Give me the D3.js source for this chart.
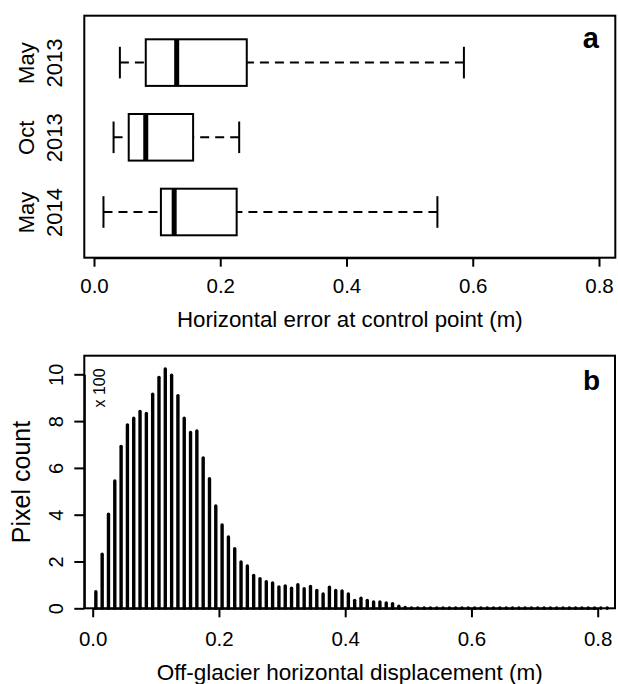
<!DOCTYPE html>
<html>
<head>
<meta charset="utf-8">
<script src="https://cdn.jsdelivr.net/npm/d3@7"></script>
<style>
  html, body { margin: 0; padding: 0; background: #fff; }
  svg { display: block; font-family: "Liberation Sans", Arial, Helvetica, sans-serif; }
</style>
</head>
<body>
<svg id="chart" width="618" height="684"></svg>
<script>
// ---------- Panel a: box plot data ----------
const boxCategories = ["May 2013", "Oct 2013", "May 2014"];
const boxLabelLine1 = ["May", "Oct", "May"];
const boxLabelLine2 = ["2013", "2013", "2014"];
const whiskerLow  = [0.041, 0.031, 0.015];
const quartile1   = [0.082, 0.055, 0.106];
const medianVal   = [0.131, 0.082, 0.127];
const quartile3   = [0.242, 0.157, 0.226];
const whiskerHigh = [0.586, 0.230, 0.544];
const topTicks = [0.0, 0.2, 0.4, 0.6, 0.8];
const topTickLabels = ["0.0", "0.2", "0.4", "0.6", "0.8"];
const topTitle = "Horizontal error at control point (m)";

// ---------- Panel b: histogram data (pixel count x 100) ----------
const binMids = [
  0.005, 0.015, 0.025, 0.035, 0.045, 0.055, 0.065, 0.075, 0.085, 0.095,
  0.105, 0.115, 0.125, 0.135, 0.145, 0.155, 0.165, 0.175, 0.185, 0.195,
  0.205, 0.215, 0.225, 0.235, 0.245, 0.255, 0.265, 0.275, 0.285, 0.295,
  0.305, 0.315, 0.325, 0.335, 0.345, 0.355, 0.365, 0.375, 0.385, 0.395,
  0.405, 0.415, 0.425, 0.435, 0.445, 0.455, 0.465, 0.475, 0.485, 0.495,
  0.505, 0.515, 0.525, 0.535, 0.545, 0.555, 0.565, 0.575, 0.585, 0.595,
  0.605, 0.615, 0.625, 0.635, 0.645, 0.655, 0.665, 0.675, 0.685, 0.695,
  0.705, 0.715, 0.725, 0.735, 0.745, 0.755, 0.765, 0.775, 0.785, 0.795,
  0.805, 0.815
];
const pixelCounts = [
  0.71, 2.31, 4.02, 5.44, 6.92, 7.84, 8.12, 8.41, 8.33, 9.15,
  9.87, 10.23, 9.96, 9.09, 8.12, 7.51, 7.58, 6.43, 5.54, 4.37,
  3.56, 3.05, 2.55, 1.98, 1.81, 1.40, 1.27, 1.14, 1.08, 0.91,
  0.96, 0.86, 1.01, 0.84, 0.93, 0.76, 0.61, 0.90, 0.76, 0.74,
  0.61, 0.34, 0.43, 0.34, 0.27, 0.27, 0.23, 0.20, 0.09, 0.04,
  0.02, 0.02, 0.02, 0.02, 0.02, 0.01, 0.01, 0.01, 0.01, 0.01,
  0.01, 0.01, 0.01, 0.01, 0.01, 0.01, 0.01, 0.01, 0.01, 0.01,
  0.01, 0.01, 0.01, 0.01, 0.01, 0.01, 0.01, 0.01, 0.01, 0.01,
  0.01, 0.01
];
const botXTicks = [0.0, 0.2, 0.4, 0.6, 0.8];
const botXTickLabels = ["0.0", "0.2", "0.4", "0.6", "0.8"];
const botYTicks = [0, 2, 4, 6, 8, 10];
const botYTickLabels = ["0", "2", "4", "6", "8", "10"];
const botXTitle = "Off-glacier horizontal displacement (m)";
const botYTitle = "Pixel count";
const botMultiplier = "x 100";

const svg = d3.select("#chart");
svg.append("rect").attr("width", 618).attr("height", 684).attr("fill", "#fff");

// ================= Panel a =================
const A = { left: 84.3, right: 615.3, top: 15.7, bottom: 257.7 };
const xA = d3.scaleLinear().domain([0, 0.8]).range([94, 599]);
const yA = d3.scalePoint().domain(boxCategories).range([62.6, 212]);
const boxHalf = 23.3, capHalf = 15.8;

const gA = svg.append("g");
const boxes = boxCategories.map((c, i) => ({
  c, lo: whiskerLow[i], q1: quartile1[i], med: medianVal[i], q3: quartile3[i], hi: whiskerHigh[i]
}));

// whiskers (dashed), drawn from whisker end toward box
gA.selectAll("line.wlo").data(boxes).join("line")
  .attr("x1", d => xA(d.lo)).attr("x2", d => xA(d.q1))
  .attr("y1", d => yA(d.c)).attr("y2", d => yA(d.c))
  .attr("stroke", "#000").attr("stroke-width", 2).attr("stroke-dasharray", "9,6");
gA.selectAll("line.whi").data(boxes).join("line")
  .attr("x1", d => xA(d.hi)).attr("x2", d => xA(d.q3))
  .attr("y1", d => yA(d.c)).attr("y2", d => yA(d.c))
  .attr("stroke", "#000").attr("stroke-width", 2).attr("stroke-dasharray", "9,6");
// caps
["lo", "hi"].forEach(k => {
  gA.selectAll("line.cap" + k).data(boxes).join("line")
    .attr("x1", d => xA(d[k])).attr("x2", d => xA(d[k]))
    .attr("y1", d => yA(d.c) - capHalf).attr("y2", d => yA(d.c) + capHalf)
    .attr("stroke", "#000").attr("stroke-width", 2);
});
// boxes
gA.selectAll("rect.box").data(boxes).join("rect")
  .attr("x", d => xA(d.q1)).attr("width", d => xA(d.q3) - xA(d.q1))
  .attr("y", d => yA(d.c) - boxHalf).attr("height", 2 * boxHalf)
  .attr("fill", "#fff").attr("stroke", "#000").attr("stroke-width", 2);
// medians
gA.selectAll("line.med").data(boxes).join("line")
  .attr("x1", d => xA(d.med)).attr("x2", d => xA(d.med))
  .attr("y1", d => yA(d.c) - boxHalf).attr("y2", d => yA(d.c) + boxHalf)
  .attr("stroke", "#000").attr("stroke-width", 5);

// frame
svg.append("rect").attr("x", A.left).attr("y", A.top)
  .attr("width", A.right - A.left).attr("height", A.bottom - A.top)
  .attr("fill", "none").attr("stroke", "#000").attr("stroke-width", 2);

// x axis
const axA = svg.append("g").attr("transform", `translate(0,${A.bottom})`)
  .call(d3.axisBottom(xA).tickValues(topTicks).tickFormat((d, i) => topTickLabels[i])
    .tickSize(9).tickSizeOuter(0));
axA.select(".domain").attr("stroke", "#000").attr("stroke-width", 2);
axA.selectAll(".tick line").attr("stroke", "#000").attr("stroke-width", 2);
axA.selectAll(".tick text").attr("y", 35.5).attr("dy", null)
  .attr("font-size", "20.5px").attr("fill", "#000").attr("font-family", null);

// y labels (two lines, rotated)
const ayA = svg.append("g").attr("transform", `translate(${A.left},0)`)
  .call(d3.axisLeft(yA).tickSize(0));
ayA.select(".domain").remove();
ayA.selectAll(".tick text").each(function (d, i) {
  const t = d3.select(this);
  t.text(null).attr("x", null).attr("y", null).attr("dy", null)
    .attr("transform", "rotate(-90)").attr("text-anchor", "middle")
    .attr("font-size", "22px").attr("fill", "#000").attr("font-family", null);
  t.append("tspan").attr("x", 0).attr("y", -(A.left - 34)).text(boxLabelLine1[i]);
  t.append("tspan").attr("x", 0).attr("y", -(A.left - 61.5)).text(boxLabelLine2[i]);
});

svg.append("text").attr("x", (A.left + A.right) / 2).attr("y", 327)
  .attr("text-anchor", "middle").attr("font-size", "22.3px").text(topTitle);
svg.append("text").attr("x", 599).attr("y", 48).attr("text-anchor", "end")
  .attr("font-size", "29px").attr("font-weight", "bold").text("a");

// ================= Panel b =================
const B = { left: 84.3, right: 615, top: 355.7, bottom: 608.3 };
const xB = d3.scaleLinear().domain([0, 0.8]).range([92.7, 597.7]);
const yB = d3.scaleLinear().domain([0, 10]).range([608.3, 374.3]);

svg.append("g").selectAll("line.bar").data(binMids.map((m, i) => ({ m, v: pixelCounts[i] })))
  .join("line")
  .attr("x1", d => xB(d.m)).attr("x2", d => xB(d.m))
  .attr("y1", yB(0)).attr("y2", d => yB(d.v))
  .attr("stroke", "#000").attr("stroke-width", 3.4).attr("stroke-linecap", "round");

svg.append("rect").attr("x", B.left).attr("y", B.top)
  .attr("width", B.right - B.left).attr("height", B.bottom - B.top)
  .attr("fill", "none").attr("stroke", "#000").attr("stroke-width", 2);

const axB = svg.append("g").attr("transform", `translate(0,${B.bottom})`)
  .call(d3.axisBottom(xB).tickValues(botXTicks).tickFormat((d, i) => botXTickLabels[i])
    .tickSize(9).tickSizeOuter(0));
axB.select(".domain").attr("stroke", "#000").attr("stroke-width", 2);
axB.selectAll(".tick line").attr("stroke", "#000").attr("stroke-width", 2);
axB.selectAll(".tick text").attr("y", 38).attr("dy", null)
  .attr("font-size", "20.5px").attr("fill", "#000").attr("font-family", null);

const ayB = svg.append("g").attr("transform", `translate(${B.left},0)`)
  .call(d3.axisLeft(yB).tickValues(botYTicks).tickFormat((d, i) => botYTickLabels[i])
    .tickSize(10).tickSizeOuter(0));
ayB.select(".domain").attr("stroke", "#000").attr("stroke-width", 2);
ayB.selectAll(".tick line").attr("stroke", "#000").attr("stroke-width", 2);
ayB.selectAll(".tick text").attr("x", 0).attr("y", -(B.left - 63)).attr("dy", null)
  .attr("transform", "rotate(-90)").attr("text-anchor", "middle")
  .attr("font-size", "20px").attr("fill", "#000").attr("font-family", null);

svg.append("text").attr("transform", `translate(30,${(B.top + B.bottom) / 2}) rotate(-90)`)
  .attr("text-anchor", "middle").attr("font-size", "25px").text(botYTitle);
svg.append("text").attr("transform", `translate(105,388) rotate(-90)`)
  .attr("text-anchor", "middle").attr("font-size", "16px").text(botMultiplier);
svg.append("text").attr("x", (B.left + B.right) / 2).attr("y", 680)
  .attr("text-anchor", "middle").attr("font-size", "22.5px").text(botXTitle);
svg.append("text").attr("x", 600).attr("y", 390).attr("text-anchor", "end")
  .attr("font-size", "28px").attr("font-weight", "bold").text("b");
</script>
</body>
</html>
